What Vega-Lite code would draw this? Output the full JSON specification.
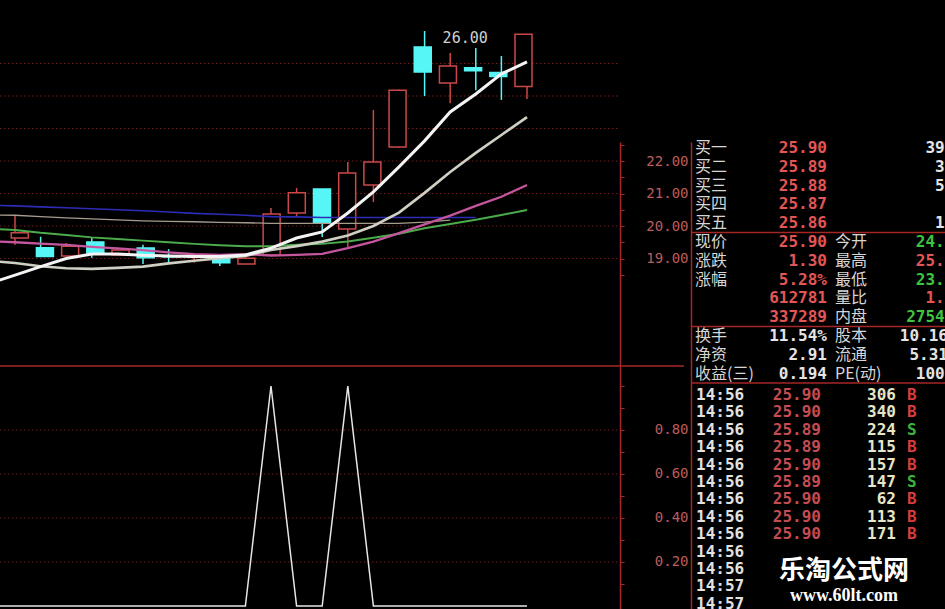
{
  "$schema": "https://vega.github.io/schema/vega-lite/v6.json",
  "background": "#000000",
  "padding": 0,
  "autosize": "none",
  "width": 945,
  "height": 609,
  "config": {"view": {"stroke": null}, "axis": {"title": null}},
  "datasets": {
    "candles": [
      {"i": 1, "o": 19.63, "h": 20.34, "l": 19.42, "c": 19.79, "dir": "up"},
      {"i": 2, "o": 19.33, "h": 19.67, "l": 19.06, "c": 19.06, "dir": "down"},
      {"i": 3, "o": 19.08, "h": 19.48, "l": 19.08, "c": 19.38, "dir": "up"},
      {"i": 4, "o": 19.51, "h": 19.64, "l": 19.02, "c": 19.17, "dir": "down"},
      {"i": 5, "o": 19.11, "h": 19.30, "l": 19.09, "c": 19.26, "dir": "up"},
      {"i": 6, "o": 19.32, "h": 19.42, "l": 18.83, "c": 19.02, "dir": "down"},
      {"i": 7, "o": 19.07, "h": 19.29, "l": 18.87, "c": 19.05, "dir": "down"},
      {"i": 8, "o": 19.05, "h": 19.16, "l": 18.87, "c": 19.08, "dir": "up"},
      {"i": 9, "o": 19.02, "h": 19.08, "l": 18.77, "c": 18.87, "dir": "down"},
      {"i": 10, "o": 18.83, "h": 19.04, "l": 18.82, "c": 19.01, "dir": "up"},
      {"i": 11, "o": 19.11, "h": 20.55, "l": 19.09, "c": 20.37, "dir": "up"},
      {"i": 12, "o": 20.40, "h": 21.17, "l": 20.28, "c": 21.02, "dir": "up"},
      {"i": 13, "o": 21.14, "h": 21.14, "l": 19.66, "c": 20.09, "dir": "down"},
      {"i": 14, "o": 19.91, "h": 21.97, "l": 19.35, "c": 21.63, "dir": "up"},
      {"i": 15, "o": 21.26, "h": 23.57, "l": 20.74, "c": 21.97, "dir": "up"},
      {"i": 16, "o": 22.43, "h": 24.20, "l": 22.41, "c": 24.18, "dir": "up"},
      {"i": 17, "o": 25.51, "h": 26.00, "l": 24.00, "c": 24.74, "dir": "down"},
      {"i": 18, "o": 24.40, "h": 25.32, "l": 23.78, "c": 24.92, "dir": "up"},
      {"i": 19, "o": 24.87, "h": 25.48, "l": 24.18, "c": 24.78, "dir": "down"},
      {"i": 20, "o": 24.72, "h": 25.23, "l": 23.88, "c": 24.60, "dir": "down"},
      {"i": 21, "o": 24.29, "h": 25.90, "l": 23.91, "c": 25.90, "dir": "up"}
    ],
    "ma": [
      {"i": 0, "m5": 18.23, "m10": 18.93, "m20": 19.53, "m30": 19.91, "m60": 20.64, "mb": 20.34, "k": 0},
      {"i": 1, "m5": 18.49, "m10": 18.86, "m20": 19.50, "m30": 19.88, "m60": 20.62, "mb": 20.33, "k": 0},
      {"i": 2, "m5": 18.75, "m10": 18.76, "m20": 19.46, "m30": 19.79, "m60": 20.59, "mb": 20.29, "k": 0},
      {"i": 3, "m5": 19.00, "m10": 18.70, "m20": 19.42, "m30": 19.72, "m60": 20.56, "mb": 20.25, "k": 0},
      {"i": 4, "m5": 19.14, "m10": 18.68, "m20": 19.36, "m30": 19.65, "m60": 20.53, "mb": 20.22, "k": 0},
      {"i": 5, "m5": 19.14, "m10": 18.71, "m20": 19.31, "m30": 19.60, "m60": 20.50, "mb": 20.19, "k": 0},
      {"i": 6, "m5": 19.10, "m10": 18.75, "m20": 19.26, "m30": 19.55, "m60": 20.47, "mb": 20.16, "k": 0},
      {"i": 7, "m5": 19.08, "m10": 18.85, "m20": 19.19, "m30": 19.50, "m60": 20.43, "mb": 20.14, "k": 0},
      {"i": 8, "m5": 19.06, "m10": 18.93, "m20": 19.13, "m30": 19.45, "m60": 20.39, "mb": 20.13, "k": 0},
      {"i": 9, "m5": 19.06, "m10": 19.01, "m20": 19.11, "m30": 19.41, "m60": 20.36, "mb": 20.11, "k": 0},
      {"i": 10, "m5": 19.11, "m10": 19.08, "m20": 19.13, "m30": 19.38, "m60": 20.33, "mb": 20.10, "k": 0},
      {"i": 11, "m5": 19.32, "m10": 19.26, "m20": 19.09, "m30": 19.38, "m60": 20.29, "mb": 20.08, "k": 1},
      {"i": 12, "m5": 19.63, "m10": 19.38, "m20": 19.11, "m30": 19.42, "m60": 20.28, "mb": 20.08, "k": 0},
      {"i": 13, "m5": 19.82, "m10": 19.52, "m20": 19.14, "m30": 19.45, "m60": 20.26, "mb": 20.08, "k": 0},
      {"i": 14, "m5": 20.40, "m10": 19.71, "m20": 19.32, "m30": 19.52, "m60": 20.26, "mb": 20.08, "k": 1},
      {"i": 15, "m5": 21.05, "m10": 20.00, "m20": 19.52, "m30": 19.64, "m60": 20.26, "mb": 20.08, "k": 0},
      {"i": 16, "m5": 21.82, "m10": 20.41, "m20": 19.78, "m30": 19.76, "m60": 20.26, "mb": 20.08, "k": 0},
      {"i": 17, "m5": 22.62, "m10": 21.02, "m20": 20.05, "m30": 19.93, "m60": 20.26, "mb": 20.12, "k": 0},
      {"i": 18, "m5": 23.51, "m10": 21.66, "m20": 20.32, "m30": 20.06, "m60": 20.26, "mb": 20.18, "k": 0},
      {"i": 19, "m5": 24.06, "m10": 22.25, "m20": 20.62, "m30": 20.19, "m60": 20.26, "mb": null, "k": 0},
      {"i": 20, "m5": 24.68, "m10": 22.80, "m20": 20.90, "m30": 20.34, "m60": null, "mb": null, "k": 0},
      {"i": 21, "m5": 25.05, "m10": 23.35, "m20": 21.26, "m30": 20.49, "m60": null, "mb": null, "k": 0}
    ],
    "pgrid": [{"p": 19}, {"p": 20}, {"p": 21}, {"p": 22}, {"p": 23}, {"p": 24}, {"p": 25}],
    "igrid": [{"g": 0.2}, {"g": 0.4}, {"g": 0.6}, {"g": 0.8}],
    "pane": [{"top": 1}],
    "quote": [
      {"r": 0, "a": "买一", "b": "25.90", "bc": "up", "d": "3925", "dc": "vol"},
      {"r": 1, "a": "买二", "b": "25.89", "bc": "up", "d": "356", "dc": "vol"},
      {"r": 2, "a": "买三", "b": "25.88", "bc": "up", "d": "512", "dc": "vol"},
      {"r": 3, "a": "买四", "b": "25.87", "bc": "up"},
      {"r": 4, "a": "买五", "b": "25.86", "bc": "up", "d": "135", "dc": "vol"},
      {"r": 5, "a": "现价", "b": "25.90", "bc": "up", "c": "今开", "d": "24.29", "dc": "down"},
      {"r": 6, "a": "涨跌", "b": "1.30", "bc": "up", "c": "最高", "d": "25.90", "dc": "up"},
      {"r": 7, "a": "涨幅", "b": "5.28%", "bc": "up", "c": "最低", "d": "23.91", "dc": "down"},
      {"r": 8, "b": "612781", "bc": "up", "c": "量比", "d": "1.35", "dc": "up"},
      {"r": 9, "b": "337289", "bc": "up", "c": "内盘", "d": "275492", "dc": "down"},
      {"r": 10, "a": "换手", "b": "11.54%", "bc": "vol", "c": "股本", "d": "10.16亿", "dc": "vol"},
      {"r": 11, "a": "净资", "b": "2.91", "bc": "vol", "c": "流通", "d": "5.31亿", "dc": "vol"},
      {"r": 12, "a": "收益(三)", "b": "0.194", "bc": "vol", "c": "PE(动)", "d": "100.5", "dc": "vol"}
    ],
    "trades": [
      {"r": 0, "t": "14:56", "p": "25.90", "v": "306", "bs": "B"},
      {"r": 1, "t": "14:56", "p": "25.90", "v": "340", "bs": "B"},
      {"r": 2, "t": "14:56", "p": "25.89", "v": "224", "bs": "S"},
      {"r": 3, "t": "14:56", "p": "25.89", "v": "115", "bs": "B"},
      {"r": 4, "t": "14:56", "p": "25.90", "v": "157", "bs": "B"},
      {"r": 5, "t": "14:56", "p": "25.89", "v": "147", "bs": "S"},
      {"r": 6, "t": "14:56", "p": "25.90", "v": "62", "bs": "B"},
      {"r": 7, "t": "14:56", "p": "25.90", "v": "113", "bs": "B"},
      {"r": 8, "t": "14:56", "p": "25.90", "v": "171", "bs": "B"},
      {"r": 9, "t": "14:56"},
      {"r": 10, "t": "14:56"},
      {"r": 11, "t": "14:57"},
      {"r": 12, "t": "14:57"}
    ],
    "one": [{"z": 0}]
  },
  "layer": [
    {
      "data": {"name": "pane"},
      "mark": {"type": "rule", "color": "#a62626", "strokeWidth": 1.5},
      "encoding": {
        "x": {"datum": 0, "type": "quantitative", "scale": {"domain": [0, 1], "range": [0, 691], "nice": false, "zero": false}, "axis": null},
        "x2": {"datum": 0.99},
        "y": {"field": "top", "type": "quantitative", "scale": {"domain": [0, 1], "range": [609, 366], "nice": false, "zero": false}, "axis": null}
      }
    },
    {
      "data": {"name": "pgrid"},
      "mark": {"type": "rule", "color": "#701e1e", "strokeWidth": 1, "strokeDash": [1.5, 2.5]},
      "encoding": {
        "x": {"datum": 0.4141, "type": "quantitative", "scale": {"domain": [0.4141, 24.633], "range": [0, 620], "nice": false, "zero": false}, "axis": null},
        "x2": {"datum": 24.633},
        "y": {"field": "p", "type": "quantitative", "scale": {"domain": [8.215, 26.954], "range": [609, 0], "nice": false, "zero": false}, "axis": null}
      }
    },
    {
      "data": {"name": "igrid"},
      "mark": {"type": "rule", "color": "#701e1e", "strokeWidth": 1, "strokeDash": [1.5, 2.5]},
      "encoding": {
        "x": {"datum": 0.4141, "type": "quantitative", "scale": {"domain": [0.4141, 24.633], "range": [0, 620], "nice": false, "zero": false}, "axis": null},
        "x2": {"datum": 24.633},
        "y": {"field": "g", "type": "quantitative", "scale": {"domain": [-0.01364, 2.7545], "range": [609, 0], "nice": false, "zero": false}, "axis": null}
      }
    },
    {
      "data": {"name": "candles"},
      "mark": {"type": "rule", "strokeWidth": 1.5, "clip": true},
      "encoding": {
        "x": {"field": "i", "type": "quantitative", "scale": {"domain": [0.4141, 24.633], "range": [0, 620], "nice": false, "zero": false}, "axis": null},
        "y": {"field": "l", "type": "quantitative", "scale": {"domain": [8.215, 26.954], "range": [609, 0], "nice": false, "zero": false}, "axis": null},
        "y2": {"field": "h"},
        "stroke": {"field": "dir", "type": "nominal", "scale": {"domain": ["up", "down"], "range": ["#cc4848", "#56f6f6"]}, "legend": null}
      }
    },
    {
      "data": {"name": "candles"},
      "mark": {"type": "bar", "orient": "vertical", "size": 17, "strokeWidth": 1.5, "clip": true},
      "encoding": {
        "x": {"field": "i", "type": "quantitative", "scale": {"domain": [0.4141, 24.633], "range": [0, 620], "nice": false, "zero": false}, "axis": null},
        "y": {"field": "o", "type": "quantitative", "scale": {"domain": [8.215, 26.954], "range": [609, 0], "nice": false, "zero": false}, "axis": null},
        "y2": {"field": "c"},
        "fill": {"field": "dir", "type": "nominal", "scale": {"domain": ["up", "down"], "range": ["#000000", "#56f6f6"]}, "legend": null},
        "stroke": {"field": "dir", "type": "nominal", "scale": {"domain": ["up", "down"], "range": ["#cc4848", "#56f6f6"]}, "legend": null}
      }
    },
    {
      "data": {"name": "ma"},
      "transform": [{"fold": ["mb", "m60", "m30", "m20", "m10", "m5"], "as": ["ma", "v"]}],
      "mark": {"type": "line", "clip": true},
      "encoding": {
        "x": {"field": "i", "type": "quantitative", "scale": {"domain": [0.4141, 24.633], "range": [0, 620], "nice": false, "zero": false}, "axis": null},
        "y": {"field": "v", "type": "quantitative", "scale": {"domain": [8.215, 26.954], "range": [609, 0], "nice": false, "zero": false}, "axis": null},
        "color": {"field": "ma", "type": "nominal", "scale": {"domain": ["mb", "m60", "m30", "m20", "m10", "m5"], "range": ["#a59c8e", "#2c2cb6", "#4cac4c", "#c4569e", "#cfcfc4", "#f4f4f4"]}, "legend": null},
        "strokeWidth": {"field": "ma", "type": "nominal", "scale": {"domain": ["mb", "m60", "m30", "m20", "m10", "m5"], "range": [1.3, 3, 1.3, 1.3, 1.3, 1.6]}, "legend": null},
        "order": {"field": "i", "type": "quantitative"}
      }
    },
    {
      "data": {"name": "candles"},
      "transform": [{"filter": "datum.i == 17"}],
      "mark": {"type": "text", "align": "left", "baseline": "middle", "dx": 18, "dy": 7, "font": "DejaVu Sans Mono", "fontSize": 15, "color": "#d0d0d0"},
      "encoding": {
        "x": {"field": "i", "type": "quantitative", "scale": {"domain": [0.4141, 24.633], "range": [0, 620], "nice": false, "zero": false}, "axis": null},
        "y": {"field": "h", "type": "quantitative", "scale": {"domain": [8.215, 26.954], "range": [609, 0], "nice": false, "zero": false}, "axis": null},
        "text": {"field": "h", "type": "quantitative", "format": ".2f"}
      }
    },
    {
      "data": {"name": "ma"},
      "mark": {"type": "line", "color": "#e6e6e6", "strokeWidth": 1.5, "clip": true},
      "encoding": {
        "x": {"field": "i", "type": "quantitative", "scale": {"domain": [0.4141, 24.633], "range": [0, 620], "nice": false, "zero": false}, "axis": null},
        "y": {"field": "k", "type": "quantitative", "scale": {"domain": [-0.01364, 2.7545], "range": [609, 0], "nice": false, "zero": false}, "axis": null}
      }
    },
    {
      "data": {"name": "one"},
      "mark": {"type": "rule", "opacity": 0},
      "encoding": {
        "y": {"datum": 20, "type": "quantitative", "scale": {"domain": [8.215, 22.585], "range": [609, 142], "nice": false, "zero": false}, "axis": {"orient": "left", "offset": -691, "values": [19, 20, 21, 22], "format": ".2f", "labelColor": "#bc5c5c", "labelFont": "DejaVu Sans Mono", "labelFontSize": 14, "labelPadding": 3, "ticks": false, "domain": true, "domainColor": "#a62626", "domainWidth": 1.5, "grid": false, "title": null}}
      }
    },
    {
      "data": {"name": "one"},
      "mark": {"type": "rule", "opacity": 0},
      "encoding": {
        "y": {"datum": 20, "type": "quantitative", "scale": {"domain": [8.215, 22.585], "range": [609, 142], "nice": false, "zero": false}, "axis": {"orient": "right", "offset": -325, "values": [18.5, 19, 19.5, 20, 20.5, 21, 21.5, 22, 22.5], "labels": false, "ticks": true, "tickSize": 4, "tickColor": "#a62626", "domain": true, "domainColor": "#a62626", "domainWidth": 1.5, "grid": false, "title": null}}
      }
    },
    {
      "data": {"name": "one"},
      "mark": {"type": "rule", "opacity": 0},
      "encoding": {
        "y": {"datum": 0.5, "type": "quantitative", "scale": {"domain": [-0.01364, 2.7545], "range": [609, 0], "nice": false, "zero": false}, "axis": {"orient": "left", "offset": -691, "values": [0.2, 0.4, 0.6, 0.8], "format": ".2f", "labelColor": "#bc5c5c", "labelFont": "DejaVu Sans Mono", "labelFontSize": 14, "labelPadding": 3, "ticks": false, "domain": false, "grid": false, "title": null}}
      }
    },
    {
      "data": {"name": "one"},
      "mark": {"type": "rule", "opacity": 0},
      "encoding": {
        "y": {"datum": 0.5, "type": "quantitative", "scale": {"domain": [-0.01364, 2.7545], "range": [609, 0], "nice": false, "zero": false}, "axis": {"orient": "right", "offset": -325, "values": [0.1, 0.2, 0.3, 0.4, 0.5, 0.6, 0.7, 0.8, 0.9, 1.0], "labels": false, "ticks": true, "tickSize": 4, "tickColor": "#a62626", "domain": false, "grid": false, "title": null}}
      }
    },
    {
      "data": {"name": "quote"},
      "transform": [{"filter": "datum.r == 4 || datum.r == 9 || datum.r == 12"}],
      "mark": {"type": "rule", "color": "#a62626", "strokeWidth": 1.5, "yOffset": 9.4},
      "encoding": {
        "x": {"datum": 0, "type": "quantitative", "scale": {"domain": [0, 25.4], "range": [691, 945], "nice": false, "zero": false}, "axis": null},
        "x2": {"datum": 25.4},
        "y": {"field": "r", "type": "quantitative", "scale": {"domain": [-7.872, 24.521], "range": [0, 609], "nice": false, "zero": false}, "axis": null}
      }
    },
    {
      "data": {"name": "quote"},
      "transform": [{"filter": "isValid(datum.a)"}],
      "mark": {"type": "text", "align": "left", "baseline": "middle", "font": "Noto Sans CJK SC", "fontSize": 16, "color": "#d6d6d6"},
      "encoding": {
        "x": {"datum": 0.4, "type": "quantitative", "scale": {"domain": [0, 25.4], "range": [691, 945], "nice": false, "zero": false}, "axis": null},
        "y": {"field": "r", "type": "quantitative", "scale": {"domain": [-7.872, 24.521], "range": [0, 609], "nice": false, "zero": false}, "axis": null},
        "text": {"field": "a", "type": "nominal"}
      }
    },
    {
      "data": {"name": "quote"},
      "transform": [{"filter": "isValid(datum.b)"}],
      "mark": {"type": "text", "align": "right", "baseline": "middle", "font": "DejaVu Sans Mono", "fontWeight": "bold", "fontSize": 16},
      "encoding": {
        "x": {"datum": 13.6, "type": "quantitative", "scale": {"domain": [0, 25.4], "range": [691, 945], "nice": false, "zero": false}, "axis": null},
        "y": {"field": "r", "type": "quantitative", "scale": {"domain": [-7.872, 24.521], "range": [0, 609], "nice": false, "zero": false}, "axis": null},
        "text": {"field": "b", "type": "nominal"},
        "color": {"field": "bc", "type": "nominal", "scale": {"domain": ["up", "down", "vol"], "range": ["#e35656", "#3ec43e", "#e4e4e4"]}, "legend": null}
      }
    },
    {
      "data": {"name": "quote"},
      "transform": [{"filter": "isValid(datum.c)"}],
      "mark": {"type": "text", "align": "left", "baseline": "middle", "font": "Noto Sans CJK SC", "fontSize": 16, "color": "#d6d6d6"},
      "encoding": {
        "x": {"datum": 14.4, "type": "quantitative", "scale": {"domain": [0, 25.4], "range": [691, 945], "nice": false, "zero": false}, "axis": null},
        "y": {"field": "r", "type": "quantitative", "scale": {"domain": [-7.872, 24.521], "range": [0, 609], "nice": false, "zero": false}, "axis": null},
        "text": {"field": "c", "type": "nominal"}
      }
    },
    {
      "data": {"name": "quote"},
      "transform": [{"filter": "isValid(datum.d)"}],
      "mark": {"type": "text", "align": "right", "baseline": "middle", "font": "DejaVu Sans Mono", "fontWeight": "bold", "fontSize": 16},
      "encoding": {
        "x": {"datum": 27.3, "type": "quantitative", "scale": {"domain": [0, 25.4], "range": [691, 945], "nice": false, "zero": false}, "axis": null},
        "y": {"field": "r", "type": "quantitative", "scale": {"domain": [-7.872, 24.521], "range": [0, 609], "nice": false, "zero": false}, "axis": null},
        "text": {"field": "d", "type": "nominal"},
        "color": {"field": "dc", "type": "nominal", "scale": {"domain": ["up", "down", "vol"], "range": ["#e35656", "#3ec43e", "#e4e4e4"]}, "legend": null}
      }
    },
    {
      "data": {"name": "trades"},
      "mark": {"type": "text", "align": "left", "baseline": "middle", "font": "DejaVu Sans Mono", "fontWeight": "bold", "fontSize": 16, "color": "#e2e2e2"},
      "encoding": {
        "x": {"datum": 0.5, "type": "quantitative", "scale": {"domain": [0, 25.4], "range": [691, 945], "nice": false, "zero": false}, "axis": null},
        "y": {"field": "r", "type": "quantitative", "scale": {"domain": [-22.701, 12.299], "range": [0, 609], "nice": false, "zero": false}, "axis": null},
        "text": {"field": "t", "type": "nominal"}
      }
    },
    {
      "data": {"name": "trades"},
      "transform": [{"filter": "isValid(datum.p)"}],
      "mark": {"type": "text", "align": "right", "baseline": "middle", "font": "DejaVu Sans Mono", "fontWeight": "bold", "fontSize": 16, "color": "#c44c52"},
      "encoding": {
        "x": {"datum": 13.0, "type": "quantitative", "scale": {"domain": [0, 25.4], "range": [691, 945], "nice": false, "zero": false}, "axis": null},
        "y": {"field": "r", "type": "quantitative", "scale": {"domain": [-22.701, 12.299], "range": [0, 609], "nice": false, "zero": false}, "axis": null},
        "text": {"field": "p", "type": "nominal"}
      }
    },
    {
      "data": {"name": "trades"},
      "transform": [{"filter": "isValid(datum.v)"}],
      "mark": {"type": "text", "align": "right", "baseline": "middle", "font": "DejaVu Sans Mono", "fontWeight": "bold", "fontSize": 16, "color": "#e6e6c6"},
      "encoding": {
        "x": {"datum": 20.5, "type": "quantitative", "scale": {"domain": [0, 25.4], "range": [691, 945], "nice": false, "zero": false}, "axis": null},
        "y": {"field": "r", "type": "quantitative", "scale": {"domain": [-22.701, 12.299], "range": [0, 609], "nice": false, "zero": false}, "axis": null},
        "text": {"field": "v", "type": "nominal"}
      }
    },
    {
      "data": {"name": "trades"},
      "transform": [{"filter": "isValid(datum.bs)"}],
      "mark": {"type": "text", "align": "left", "baseline": "middle", "font": "DejaVu Sans Mono", "fontWeight": "bold", "fontSize": 16},
      "encoding": {
        "x": {"datum": 21.6, "type": "quantitative", "scale": {"domain": [0, 25.4], "range": [691, 945], "nice": false, "zero": false}, "axis": null},
        "y": {"field": "r", "type": "quantitative", "scale": {"domain": [-22.701, 12.299], "range": [0, 609], "nice": false, "zero": false}, "axis": null},
        "text": {"field": "bs", "type": "nominal"},
        "color": {"field": "bs", "type": "nominal", "scale": {"domain": ["B", "S"], "range": ["#d83c3c", "#3cb43c"]}, "legend": null}
      }
    },
    {
      "data": {"values": [{"w": "乐淘公式网"}]},
      "mark": {"type": "text", "align": "center", "baseline": "middle", "font": "Noto Sans CJK SC", "fontWeight": "bold", "fontSize": 26, "color": "#ffffff"},
      "encoding": {
        "x": {"datum": 15.3, "type": "quantitative", "scale": {"domain": [0, 25.4], "range": [691, 945], "nice": false, "zero": false}, "axis": null},
        "y": {"datum": 10.1, "type": "quantitative", "scale": {"domain": [-22.701, 12.299], "range": [0, 609], "nice": false, "zero": false}, "axis": null},
        "text": {"field": "w", "type": "nominal"}
      }
    },
    {
      "data": {"values": [{"w": "www.60lt.com"}]},
      "mark": {"type": "text", "align": "center", "baseline": "middle", "font": "Liberation Serif", "fontWeight": "bold", "fontSize": 18, "color": "#ffffff"},
      "encoding": {
        "x": {"datum": 15.3, "type": "quantitative", "scale": {"domain": [0, 25.4], "range": [691, 945], "nice": false, "zero": false}, "axis": null},
        "y": {"datum": 11.55, "type": "quantitative", "scale": {"domain": [-22.701, 12.299], "range": [0, 609], "nice": false, "zero": false}, "axis": null},
        "text": {"field": "w", "type": "nominal"}
      }
    }
  ],
  "resolve": {
    "scale": {"x": "independent", "y": "independent", "color": "independent", "fill": "independent", "stroke": "independent", "strokeWidth": "independent"},
    "axis": {"x": "independent", "y": "independent"}
  }
}
